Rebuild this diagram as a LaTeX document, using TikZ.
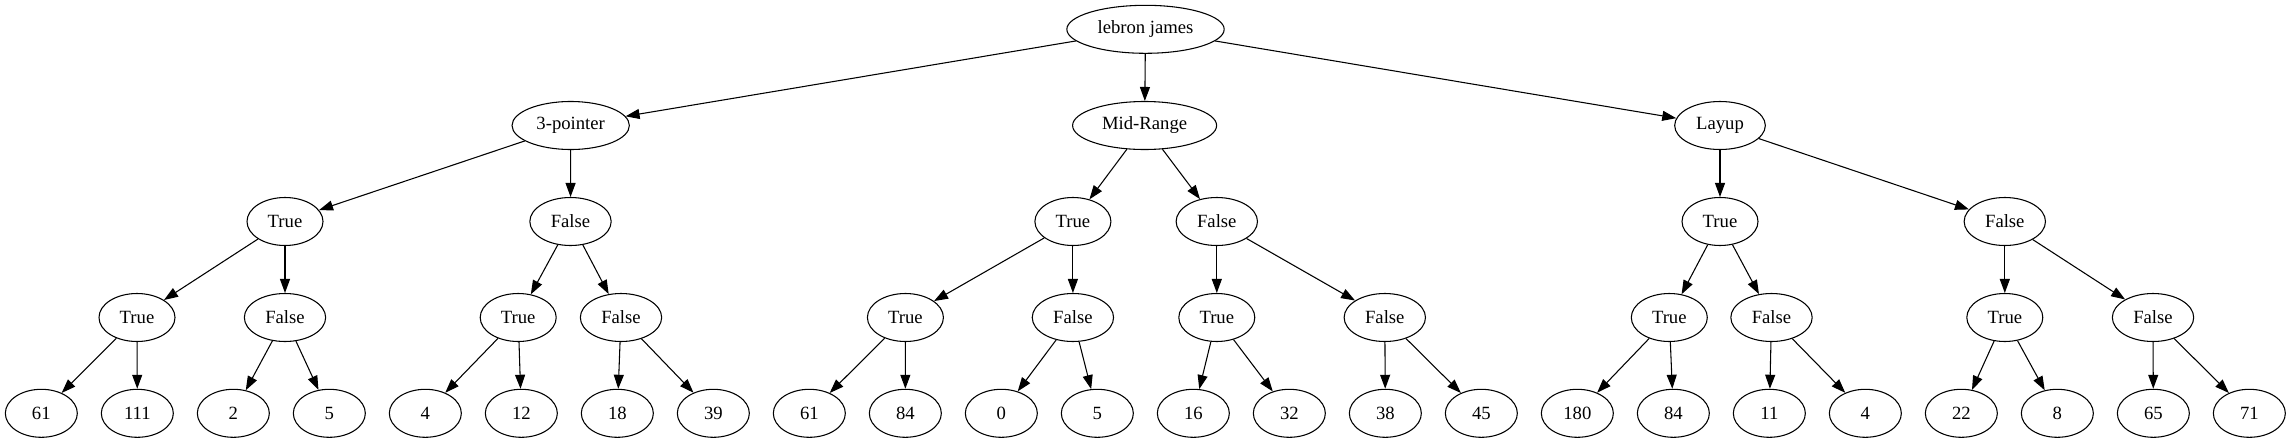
\documentclass[tikz,border=0pt]{standalone}
\usepackage{fontspec}
\setmainfont{Liberation Serif}
\usetikzlibrary{shapes.geometric,arrows.meta}
\begin{document}
\begin{tikzpicture}[x=0.75pt,y=-0.75pt,
  nd/.style={draw,ellipse,line width=0.8pt,inner sep=0pt,minimum height=36pt,font=\fontsize{14}{16}\selectfont},
  leaf/.style={nd,minimum width=54pt},
  tnode/.style={nd,minimum width=57pt},
  fnode/.style={nd,minimum width=61pt},
  edge/.style={line width=0.8pt,-{Triangle[length=10.5pt,width=7.5pt]}}]
\useasboundingbox (0,0) rectangle (2291,443);
% root and level 1
\node[nd,minimum width=118pt] (r) at (1145.5,29.3) {lebron james};
\node[nd,minimum width=88pt] (a) at (570.7,125.5) {3-pointer};
\node[nd,minimum width=108pt] (b) at (1144.6,125.5) {Mid-Range};
\node[nd,minimum width=68pt] (c) at (1720,125.5) {Layup};
% level 2
\node[tnode] (a1) at (285,221.5) {True};
\node[fnode] (a2) at (570.5,221.5) {False};
\node[tnode] (b1) at (1072.9,221.5) {True};
\node[fnode] (b2) at (1216.8,221.5) {False};
\node[tnode] (c1) at (1720,221.5) {True};
\node[fnode] (c2) at (2004.8,221.5) {False};
% level 3
\node[tnode] (a11) at (137,317.5) {True};
\node[fnode] (a12) at (285,317.5) {False};
\node[tnode] (a21) at (518.2,317.5) {True};
\node[fnode] (a22) at (621,317.5) {False};
\node[tnode] (b11) at (905.4,317.5) {True};
\node[fnode] (b12) at (1072.9,317.5) {False};
\node[tnode] (b21) at (1216.8,317.5) {True};
\node[fnode] (b22) at (1384.8,317.5) {False};
\node[tnode] (c11) at (1669.3,317.5) {True};
\node[fnode] (c12) at (1771.5,317.5) {False};
\node[tnode] (c21) at (2004.8,317.5) {True};
\node[fnode] (c22) at (2153,317.5) {False};
% leaves
\node[leaf] (l1) at (41.33,413.3) {61};
\node[leaf] (l2) at (137.33,413.3) {111};
\node[leaf] (l3) at (233.33,413.3) {2};
\node[leaf] (l4) at (329.33,413.3) {5};
\node[leaf] (l5) at (425.33,413.3) {4};
\node[leaf] (l6) at (521.33,413.3) {12};
\node[leaf] (l7) at (617.33,413.3) {18};
\node[leaf] (l8) at (713.33,413.3) {39};
\node[leaf] (l9) at (809.33,413.3) {61};
\node[leaf] (l10) at (905.33,413.3) {84};
\node[leaf] (l11) at (1001.33,413.3) {0};
\node[leaf] (l12) at (1097.33,413.3) {5};
\node[leaf] (l13) at (1193.33,413.3) {16};
\node[leaf] (l14) at (1289.33,413.3) {32};
\node[leaf] (l15) at (1385.33,413.3) {38};
\node[leaf] (l16) at (1481.33,413.3) {45};
\node[leaf] (l17) at (1577.33,413.3) {180};
\node[leaf] (l18) at (1673.33,413.3) {84};
\node[leaf] (l19) at (1769.33,413.3) {11};
\node[leaf] (l20) at (1865.33,413.3) {4};
\node[leaf] (l21) at (1961.33,413.3) {22};
\node[leaf] (l22) at (2057.33,413.3) {8};
\node[leaf] (l23) at (2153.33,413.3) {65};
\node[leaf] (l24) at (2249.33,413.3) {71};
% edges
\foreach \p/\q in {r/a,r/b,r/c,
  a/a1,a/a2,b/b1,b/b2,c/c1,c/c2,
  a1/a11,a1/a12,a2/a21,a2/a22,b1/b11,b1/b12,b2/b21,b2/b22,
  c1/c11,c1/c12,c2/c21,c2/c22,
  a11/l1,a11/l2,a12/l3,a12/l4,a21/l5,a21/l6,a22/l7,a22/l8,
  b11/l9,b11/l10,b12/l11,b12/l12,b21/l13,b21/l14,b22/l15,b22/l16,
  c11/l17,c11/l18,c12/l19,c12/l20,c21/l21,c21/l22,c22/l23,c22/l24}
  \draw[edge] (\p) -- (\q);
\end{tikzpicture}
\end{document}
